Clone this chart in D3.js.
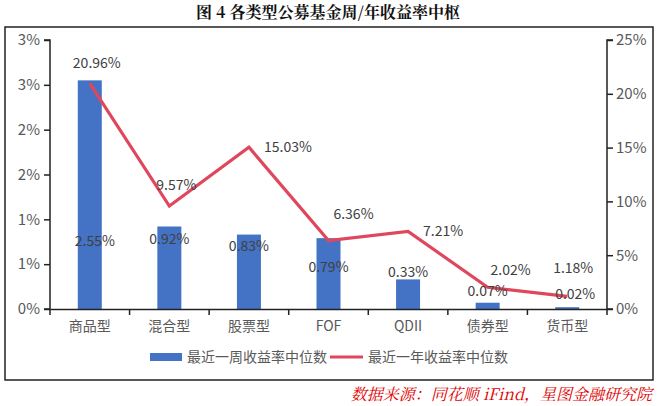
<!DOCTYPE html>
<html>
<head>
<meta charset="utf-8">
<script src="https://cdn.jsdelivr.net/npm/d3@7"></script>
<style>
  body { margin:0; background:#fff; }
  svg { display:block; font-family:"Noto Sans CJK SC","Noto Sans",sans-serif; }
</style>
</head>
<body>
<svg id="chart" width="660" height="406"></svg>
<script>
// 数据
const categories=["商品型","混合型","股票型","FOF","QDII","债券型","货币型"];
const weekMedian=[2.55,0.92,0.83,0.79,0.33,0.07,0.02];   // 左轴, %
const yearMedian=[20.96,9.57,15.03,6.36,7.21,2.02,1.18]; // 右轴, %
const leftTicks=[0,0.5,1,1.5,2,2.5,3];
const rightTicks=[0,5,10,15,20,25];

// 标签微调 (原图是手动摆放的)
const barLabelAt=[0.76,0.78,0.70,0.47,0.41,0.20,0.17]; // 左轴数值位置
const barLabelDx=[5,0,0,0,0,0,8];
const lineLabelNudge=[[7,-20],[7,-21],[39,0],[25,-26],[35,0],[23,-17],[6,-28]];

const barColor="#4472C4";
const lineColor="#E0475C";
const textColor="#404040";
const tickColor="#595959";

const margin={left:50,right:53,top:40,bottom:97};
const W=660,H=406;
const plotW=W-margin.left-margin.right;
const plotH=H-margin.top-margin.bottom;

const svg=d3.select("#chart");

svg.append("text")
  .attr("x",328).attr("y",18)
  .attr("text-anchor","middle")
  .attr("font-size",16).attr("font-weight","bold")
  .attr("font-family","'Noto Serif CJK SC','Noto Sans CJK SC',serif")
  .attr("fill","#111")
  .text("图 4 各类型公募基金周/年收益率中枢");

// 外框
svg.append("rect")
  .attr("x",5).attr("y",27).attr("width",648).attr("height",353)
  .attr("fill","none").attr("stroke","#222").attr("stroke-width",1.5);

const g=svg.append("g").attr("transform",`translate(${margin.left},${margin.top})`);

const x=d3.scaleBand().domain(categories).range([0,plotW]);
const yL=d3.scaleLinear().domain([0,3]).range([plotH,0]);
const yR=d3.scaleLinear().domain([0,25]).range([plotH,0]);

// 柱子
g.selectAll("rect.bar").data(weekMedian).enter().append("rect")
  .attr("class","bar")
  .attr("x",(d,i)=>x(categories[i])+x.bandwidth()/2-12)
  .attr("width",24)
  .attr("y",d=>yL(d))
  .attr("height",d=>plotH-yL(d))
  .attr("fill",barColor);

// 折线
const line=d3.line()
  .x((d,i)=>x(categories[i])+x.bandwidth()/2)
  .y(d=>yR(d));
g.append("path").datum(yearMedian)
  .attr("d",line)
  .attr("fill","none").attr("stroke",lineColor)
  .attr("stroke-width",3.2).attr("stroke-linejoin","miter");

// 轴
const leftAxis=g.append("g")
  .call(d3.axisLeft(yL).tickValues(leftTicks).tickSize(6).tickPadding(4)
    .tickFormat(d=>d3.format(".0f")(d===0.5||d===1.5||d===2.5?d+0.01:d)+"%"));
const rightAxis=g.append("g").attr("transform",`translate(${plotW},0)`)
  .call(d3.axisRight(yR).tickValues(rightTicks).tickSize(6).tickPadding(3)
    .tickFormat(d=>d+"%"));
const xAxis=g.append("g").attr("transform",`translate(0,${plotH})`)
  .call(d3.axisBottom(x).tickSize(0).tickPadding(12));

// x轴分隔刻度
const bounds=categories.map(c=>x(c)).concat([plotW]);
xAxis.selectAll("line.sep").data(bounds).enter().append("line")
  .attr("class","sep")
  .attr("x1",d=>d).attr("x2",d=>d).attr("y1",0).attr("y2",6)
  .attr("stroke","#222").attr("stroke-width",1.5);

[leftAxis,rightAxis,xAxis].forEach(a=>{
  a.select(".domain").attr("stroke","#222").attr("stroke-width",1.5);
  a.selectAll(".tick line").attr("stroke","#222").attr("stroke-width",1.5);
  a.selectAll("text").attr("font-size",15).attr("fill",tickColor)
    .attr("font-family","'Noto Sans CJK SC',sans-serif");
});
xAxis.selectAll("text").attr("font-size",14);
rightAxis.select(".domain").attr("d",`M6,0H0V${plotH}H6`);
leftAxis.select(".domain").attr("d",`M-6,0H0V${plotH}H-6`);

// 数据标签
g.selectAll("text.blab").data(weekMedian).enter().append("text")
  .attr("class","blab")
  .attr("x",(d,i)=>x(categories[i])+x.bandwidth()/2+barLabelDx[i])
  .attr("y",(d,i)=>yL(barLabelAt[i]))
  .attr("dy","0.35em")
  .attr("text-anchor","middle")
  .attr("font-size",14).attr("fill",textColor)
  .text(d=>d.toFixed(2)+"%");

g.selectAll("text.llab").data(yearMedian).enter().append("text")
  .attr("class","llab")
  .attr("x",(d,i)=>x(categories[i])+x.bandwidth()/2+lineLabelNudge[i][0])
  .attr("y",(d,i)=>yR(d)+lineLabelNudge[i][1])
  .attr("dy","0.35em")
  .attr("text-anchor","middle")
  .attr("font-size",14).attr("fill",textColor)
  .text(d=>d.toFixed(2)+"%");

// 图例
const legend=svg.append("g").attr("transform","translate(150,357)");
legend.append("rect").attr("x",0).attr("y",-4).attr("width",32).attr("height",8).attr("fill",barColor);
legend.append("text").attr("x",37).attr("y",0).attr("dy","0.35em")
  .attr("font-size",14).attr("fill",tickColor).text("最近一周收益率中位数");
legend.append("line").attr("x1",180).attr("x2",213).attr("y1",0).attr("y2",0)
  .attr("stroke",lineColor).attr("stroke-width",3.2);
legend.append("text").attr("x",218).attr("y",0).attr("dy","0.35em")
  .attr("font-size",14).attr("fill",tickColor).text("最近一年收益率中位数");

// 来源
svg.append("text")
  .attr("x",652).attr("y",400)
  .attr("text-anchor","end")
  .attr("font-size",16).attr("font-style","italic")
  .attr("font-family","'Noto Serif CJK SC','Noto Sans CJK SC',serif")
  .attr("fill","#E00000")
  .text("数据来源：同花顺 iFind，星图金融研究院");
</script>
</body>
</html>
